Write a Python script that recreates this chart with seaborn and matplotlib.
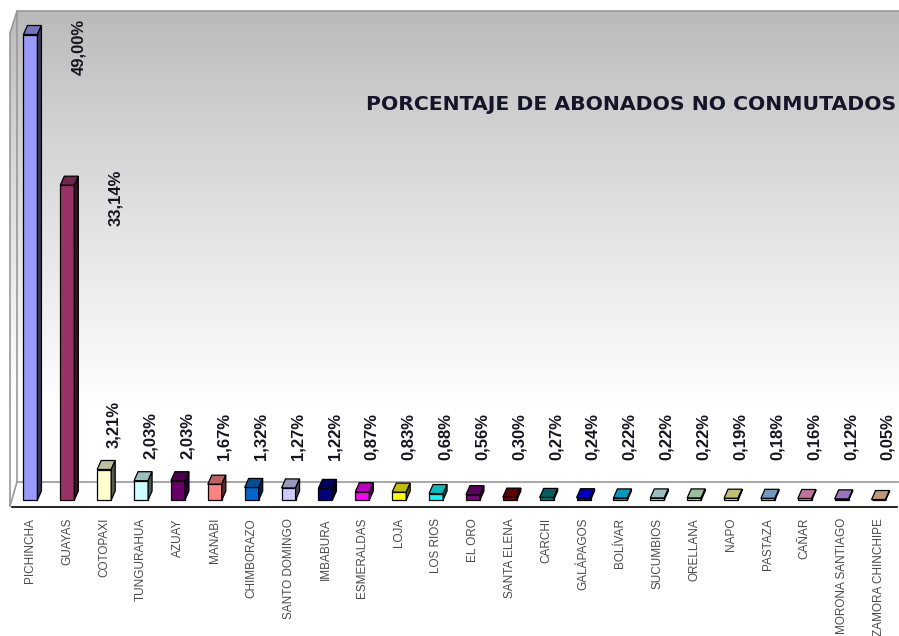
import numpy as np
import matplotlib
matplotlib.use('Agg')
import matplotlib.pyplot as plt
import seaborn as sns
from matplotlib.patches import Polygon
from matplotlib.colors import to_rgb, LinearSegmentedColormap
from matplotlib.ticker import NullFormatter

# Datos
provincias = ["PICHINCHA", "GUAYAS", "COTOPAXI", "TUNGURAHUA", "AZUAY", "MANABI",
              "CHIMBORAZO", "SANTO DOMINGO", "IMBABURA", "ESMERALDAS", "LOJA", "LOS RIOS",
              "EL ORO", "SANTA ELENA", "CARCHI", "GALÁPAGOS", "BOLÍVAR", "SUCUMBIOS",
              "ORELLANA", "NAPO", "PASTAZA", "CAÑAR", "MORONA SANTIAGO", "ZAMORA CHINCHIPE"]
porcentajes = [49.00, 33.14, 3.21, 2.03, 2.03, 1.67, 1.32, 1.27, 1.22, 0.87, 0.83, 0.68,
               0.56, 0.30, 0.27, 0.24, 0.22, 0.22, 0.22, 0.19, 0.18, 0.16, 0.12, 0.05]
etiquetas = [f"{v:.2f}%".replace(".", ",") for v in porcentajes]
colores = ["#9999FF", "#993366", "#FFFFCC", "#CCFFFF", "#660066", "#FF8080",
           "#0066CC", "#CCCCFF", "#000080", "#FF00FF", "#FFFF00", "#00FFFF",
           "#800080", "#800000", "#008080", "#0000FF", "#00CCFF", "#CCFFFF",
           "#CCFFCC", "#FFFF99", "#99CCFF", "#FF99CC", "#CC99FF", "#FFCC99"]
titulo = "PORCENTAJE DE ABONADOS NO CONMUTADOS"

W, H = 899, 636
PX_Y = 9.5          # pixeles por punto porcentual
BASE = 500          # pixel de la base de las barras


def shade(c, f):
    r, g, b = to_rgb(c)
    return (r * f, g * f, b * f)


sns.set_style("white")
plt.rcParams['font.family'] = ['Liberation Sans', 'DejaVu Sans']

fig = plt.figure(figsize=(W / 100, H / 100), dpi=100)

# Fondo 3D (pared y piso) en coordenadas de pixel
bg = fig.add_axes([0, 0, 1, 1], zorder=0)
bg.set_xlim(0, W)
bg.set_ylim(H, 0)
bg.axis('off')
wall = Polygon([(10, 33), (17, 11), (899, 11), (899, 482), (17, 482), (10, 506)],
               closed=True, facecolor='none', edgecolor='none')
bg.add_patch(wall)
cmap = LinearSegmentedColormap.from_list('pared', ['#b9b9b9', '#ffffff'])
grad = np.clip(np.linspace(0, 1, 256) / 0.8, 0, 1) ** 0.85
img = bg.imshow(grad.reshape(-1, 1), cmap=cmap, aspect='auto',
                extent=[10, 899, 506, 11], origin='upper')
img.set_clip_path(wall)
bg.add_patch(Polygon([(10, 506), (17, 482), (899, 482), (899, 506)], closed=True,
                     facecolor='white', edgecolor='none'))
lc = '#9a9a9a'
for seg in [[(10, 33), (17, 11)], [(17, 11), (899, 11)], [(17, 11), (17, 482)],
            [(17, 482), (899, 482)], [(10, 33), (10, 506)], [(17, 482), (10, 506)]]:
    xs, ys = zip(*seg)
    bg.plot(xs, ys, color=lc, lw=1.2)

# Eje principal
ax = fig.add_axes([12 / W, 1 - 507 / H, 885 / W, 496 / H], zorder=1)
ax.patch.set_alpha(0)
sns.barplot(x=provincias, y=porcentajes, hue=provincias, palette=colores, legend=False,
            saturation=1, width=0.38, edgecolor='black', linewidth=0.9, ax=ax)
ax.set_xlim(-0.5, len(provincias) - 0.5)
ax.set_ylim(-(507 - BASE) / PX_Y, (BASE - 11) / PX_Y)

# Caras superior y lateral
dx = 4 / (885 / len(provincias))
dy = 9 / PX_Y
for bar, c in zip(ax.patches, colores):
    x0 = bar.get_x()
    x1 = x0 + bar.get_width()
    y1 = bar.get_height()
    ax.add_patch(Polygon([(x0, y1), (x0 + dx, y1 + dy), (x1 + dx, y1 + dy), (x1, y1)],
                         facecolor=shade(c, 0.75), edgecolor='black', lw=0.9))
    ax.add_patch(Polygon([(x1, 0), (x1 + dx, dy), (x1 + dx, y1 + dy), (x1, y1)],
                         facecolor=shade(c, 0.35), edgecolor='black', lw=0.9))

# Etiquetas de valor
for i, (v, t) in enumerate(zip(porcentajes, etiquetas)):
    if v > 10:
        ax.text(i + 1.3, v - 1.3, t, rotation=90, ha='center', va='center',
                fontsize=12, fontweight='bold', color='#15151f')
    else:
        ax.text(i + 0.25, max(v + 2.3, 4.2), t, rotation=90, ha='center', va='bottom',
                fontsize=12, fontweight='bold', color='#15151f')

# Ejes y marcas
for s in ['top', 'right', 'left']:
    ax.spines[s].set_visible(False)
ax.spines['bottom'].set_color('black')
ax.spines['bottom'].set_linewidth(1.2)
ax.set_yticks([])
ax.set_xticks(np.arange(-0.5, len(provincias), 1))
ax.xaxis.set_major_formatter(NullFormatter())
ax.set_xticks(np.arange(len(provincias)), minor=True)
ax.set_xticklabels(provincias, minor=True, rotation=90, fontsize=8.5, color='#4a4a4a')
ax.tick_params(axis='x', which='major', length=6, width=1.2, color='black', direction='out')
ax.tick_params(axis='x', which='minor', length=0, pad=8)
ax.set_xlabel('')
ax.set_ylabel('')

fig.text(896 / W, 1 - 105 / H, titulo, ha='right', va='center', fontsize=14.7,
         fontweight='bold', color='#15152a', family=['DejaVu Sans'])

fig.savefig('out.png', dpi=100)
